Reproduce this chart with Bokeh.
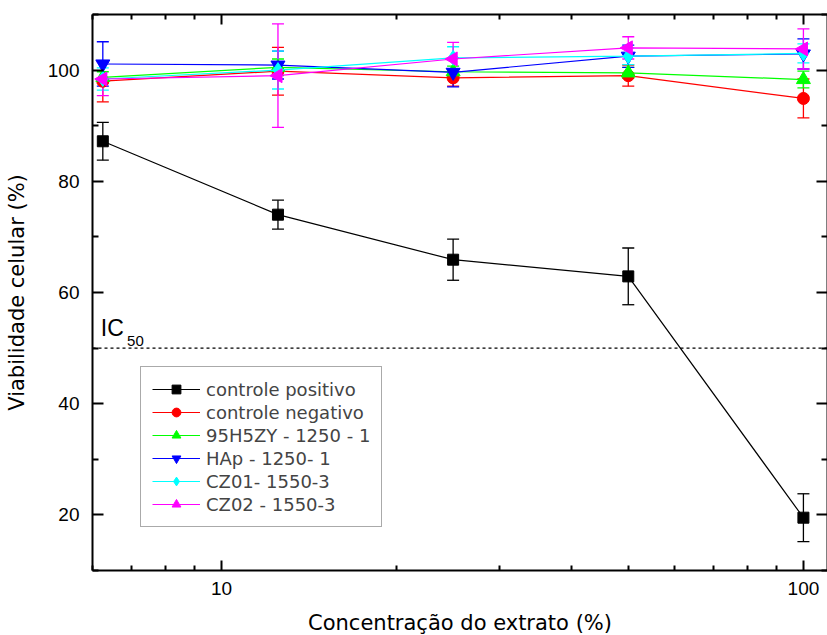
from bokeh.plotting import figure
from bokeh.models import (LogAxis, LinearAxis, FixedTicker, Whisker, ColumnDataSource,
                          Legend, LegendItem, Span, Label, TeeHead, PrintfTickFormatter)
from bokeh.embed import file_html
from bokeh.resources import INLINE

# ---- data ----
conc = [6.25, 12.5, 25, 50, 100]

pos_mean = [87.2, 74.0, 65.9, 62.9, 19.5]
pos_err = [3.4, 2.6, 3.7, 5.1, 4.3]
neg_mean = [98.0, 99.8, 98.6, 99.0, 94.9]
neg_err = [3.7, 4.3, 1.5, 1.9, 3.5]
h95_mean = [98.7, 100.5, 99.7, 99.5, 98.3]
h95_err = [1.0, 1.5, 1.0, 1.0, 1.5]
hap_mean = [101.1, 100.9, 99.6, 102.5, 102.9]
hap_err = [4.0, 2.5, 2.6, 2.0, 2.7]
cz01_mean = [98.4, 100.0, 102.2, 102.5, 103.0]
cz01_err = [2.0, 3.4, 2.0, 1.5, 1.7]
cz02_mean = [98.4, 99.0, 102.0, 104.0, 103.8]
cz02_err = [3.0, 9.3, 3.0, 2.0, 3.6]

names = ["controle positivo", "controle negativo", "95H5ZY - 1250 - 1",
         "HAp - 1250- 1", "CZ01- 1550-3", "CZ02 - 1550-3"]
means = [pos_mean, neg_mean, h95_mean, hap_mean, cz01_mean, cz02_mean]
errs = [pos_err, neg_err, h95_err, hap_err, cz01_err, cz02_err]
colors = ["#000000", "#ff0000", "#00ff00", "#0000ff", "#00ffff", "#ff00ff"]
markers = ["square", "circle", "triangle", "inverted_triangle", "diamond", "triangle"]
marker_sizes = [11, 12, 14, 14, 15, 14]
marker_angles = [0, 0, 0, 0, 0, 1.5708]

ic50 = 50

x_major = [10, 100]
x_minor = [6, 7, 8, 9, 20, 30, 40, 50, 60, 70, 80, 90]
y_major = [20, 40, 60, 80, 100]
y_minor = [10, 30, 50, 70, 90, 110]

TICK_FONT = "Liberation Sans"
TEXT_FONT = "DejaVu Sans"

p = figure(x_axis_type="log", x_range=(6, 110), y_range=(10, 110),
           frame_width=735, frame_height=556,
           output_backend="svg", toolbar_location=None,
           min_border_left=92, min_border_right=0, min_border_top=14, min_border_bottom=60)
p.grid.visible = False
p.outline_line_color = None
p.background_fill_color = "white"
p.border_fill_color = "white"

def style_axis(ax, major_in, minor_in, labels=True, ticks=None):
    ax.axis_line_width = 2
    ax.axis_line_color = "black"
    ax.major_tick_in = major_in
    ax.major_tick_out = 0
    ax.minor_tick_in = minor_in
    ax.minor_tick_out = 0
    ax.major_tick_line_width = 2
    ax.minor_tick_line_width = 2
    ax.major_tick_line_color = "black"
    ax.minor_tick_line_color = "black"
    if labels:
        ax.major_label_text_font = TICK_FONT
        ax.major_label_text_font_size = "19px"
        ax.major_label_text_color = "black"
        ax.axis_label_text_font = TEXT_FONT
        ax.axis_label_text_font_size = "21px"
        ax.axis_label_text_font_style = "normal"
        ax.axis_label_text_color = "black"
    else:
        ax.major_label_overrides = {t: "" for t in ticks}
        ax.major_label_text_font_size = "1px"
        ax.major_label_standoff = 0

xb = p.xaxis[0]
xb.ticker = FixedTicker(ticks=x_major, minor_ticks=x_minor)
xb.formatter = PrintfTickFormatter(format="%d")
style_axis(xb, 10, 5)
xb.major_label_standoff = 11
xb.axis_label = "Concentração do extrato (%)"
xb.axis_label_standoff = 13

yl = p.yaxis[0]
yl.ticker = FixedTicker(ticks=y_major, minor_ticks=y_minor)
style_axis(yl, 11, 6)
yl.major_label_standoff = 13
yl.axis_label = "Viabilidade celular (%)"
yl.axis_label_standoff = 16

xt = LogAxis(ticker=FixedTicker(ticks=x_major, minor_ticks=x_minor))
style_axis(xt, 10, 5, labels=False, ticks=x_major)
p.add_layout(xt, "above")
yr = LinearAxis(ticker=FixedTicker(ticks=y_major, minor_ticks=y_minor))
style_axis(yr, 11, 6, labels=False, ticks=y_major)
p.add_layout(yr, "right")

# IC50 line and label
p.add_layout(Span(location=ic50, dimension="width", line_color="black",
                  line_width=1.3, line_dash="3 3"))
p.add_layout(Label(x=6.2, y=53.6, text="IC", text_font=TICK_FONT, text_font_size="23px",
                   text_baseline="alphabetic", text_color="black"))
p.add_layout(Label(x=6.88, y=51.2, text=str(ic50), text_font=TICK_FONT, text_font_size="15px",
                   text_baseline="alphabetic", text_color="black"))

items = []
for name, m, e, c, mk, ms, ang in zip(names, means, errs, colors, markers, marker_sizes, marker_angles):
    src = ColumnDataSource(dict(x=conc, y=m,
                                lo=[a - b for a, b in zip(m, e)],
                                hi=[a + b for a, b in zip(m, e)]))
    w = Whisker(source=src, base="x", upper="hi", lower="lo", line_color=c, line_width=1.3,
                upper_head=TeeHead(size=12, line_color=c, line_width=1.3),
                lower_head=TeeHead(size=12, line_color=c, line_width=1.3),
                level="underlay")
    p.add_layout(w)
    lr = p.line("x", "y", source=src, line_color=c, line_width=1.2)
    sr = p.scatter("x", "y", source=src, marker=mk, size=ms, angle=ang,
                   fill_color=c, line_color=c)
    items.append(LegendItem(label=name, renderers=[lr, sr]))

legend = Legend(items=items, location=(48, 43), glyph_width=48, glyph_height=22,
                label_height=22, spacing=1, padding=11, margin=0, label_standoff=6,
                label_text_font=TEXT_FONT, label_text_font_size="18px",
                border_line_color="#555555", border_line_width=1.3,
                background_fill_color="white", background_fill_alpha=1)
p.add_layout(legend, "center")

open("out.html", "w").write(file_html(p, INLINE))
